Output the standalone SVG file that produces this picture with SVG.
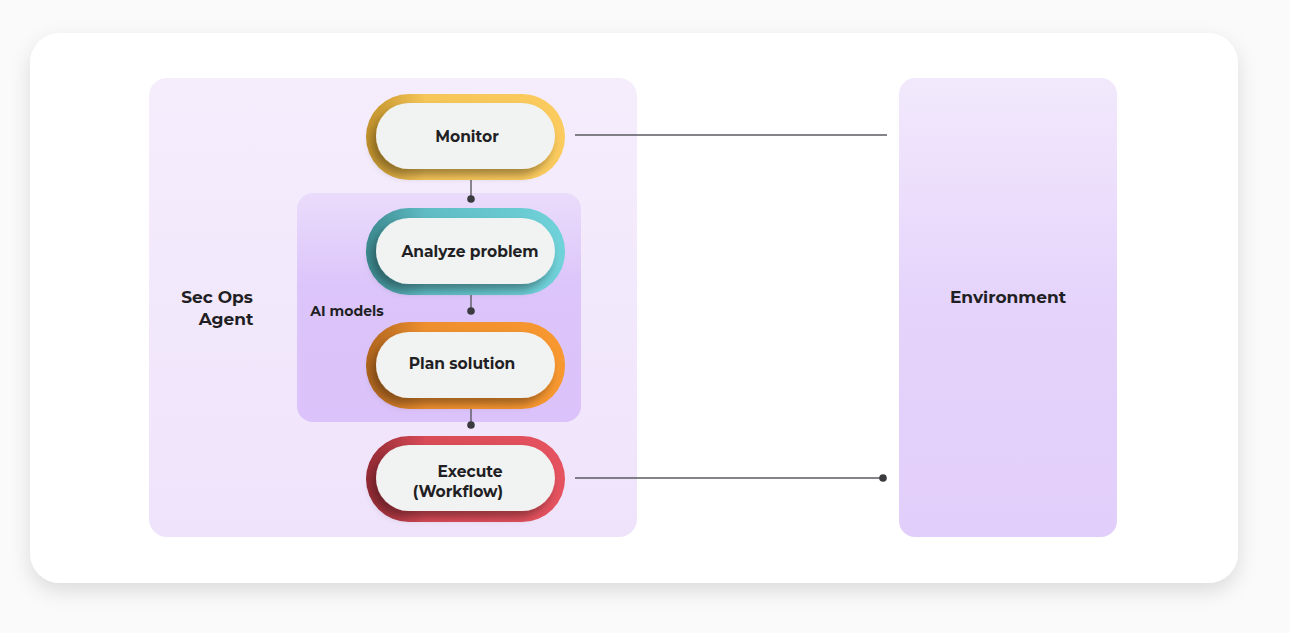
<svg xmlns="http://www.w3.org/2000/svg" width="1290" height="633" viewBox="0 0 1290 633">
<defs>
<filter id="cardsh" x="-10%" y="-10%" width="120%" height="130%"><feDropShadow dx="0" dy="8" stdDeviation="10" flood-color="#000" flood-opacity="0.12"/></filter>
<filter id="pillsh" x="-20%" y="-30%" width="140%" height="170%"><feDropShadow dx="-4" dy="6" stdDeviation="4" flood-color="#000" flood-opacity="0.35"/></filter>
<linearGradient id="lp" x1="0" y1="0" x2="0" y2="1"><stop offset="0" stop-color="#f5edfc"/><stop offset="1" stop-color="#efe3fb"/></linearGradient>
<linearGradient id="ai" x1="0" y1="0" x2="0" y2="1"><stop offset="0" stop-color="#eadcfb"/><stop offset="0.4" stop-color="#dcc5fa"/><stop offset="1" stop-color="#dbc2fa"/></linearGradient>
<linearGradient id="rp" x1="0" y1="0" x2="0" y2="1"><stop offset="0" stop-color="#f2e9fc"/><stop offset="0.5" stop-color="#e5d3fb"/><stop offset="1" stop-color="#e2cefa"/></linearGradient>
<linearGradient id="gy" x1="0" y1="0" x2="1" y2="0"><stop offset="0" stop-color="#c3932c"/><stop offset="0.3" stop-color="#f6c658"/><stop offset="1" stop-color="#fbcb5e"/></linearGradient>
<linearGradient id="gt" x1="0" y1="0" x2="1" y2="0"><stop offset="0" stop-color="#3c8a8f"/><stop offset="0.3" stop-color="#5fbcc4"/><stop offset="1" stop-color="#70d2da"/></linearGradient>
<linearGradient id="go" x1="0" y1="0" x2="1" y2="0"><stop offset="0" stop-color="#b0661f"/><stop offset="0.3" stop-color="#ee8f2e"/><stop offset="1" stop-color="#f89830"/></linearGradient>
<linearGradient id="gr" x1="0" y1="0" x2="1" y2="0"><stop offset="0" stop-color="#942a34"/><stop offset="0.3" stop-color="#d84b57"/><stop offset="1" stop-color="#e5535f"/></linearGradient>
</defs>
<style>
text{font-family:Montserrat,"Inter","Liberation Sans",sans-serif;font-weight:700;fill:#1f1f24;text-anchor:middle}
.pill{font-size:15.5px}
.inner{fill:#f1f2f2;filter:url(#pillsh)}
.ln{stroke:#5a5a60;stroke-width:1.4;fill:none}
.dot{fill:#3a3a3f}
</style>
<rect width="1290" height="633" fill="#fafafa"/>
<rect x="30" y="33" width="1208" height="550" rx="30" fill="#fff" filter="url(#cardsh)"/>
<g id="secops">
<rect x="149" y="78" width="488" height="459" rx="18" fill="url(#lp)"/>
<text x="217" y="303" font-size="17">Sec Ops</text>
<text x="226" y="325" font-size="17">Agent</text>
</g>
<g id="aimodels">
<rect x="297" y="193" width="284" height="229" rx="16" fill="url(#ai)"/>
<text x="347" y="316" font-size="14">AI models</text>
</g>
<g id="environment">
<rect x="899" y="78" width="218" height="459" rx="16" fill="url(#rp)"/>
<text x="1008" y="303" font-size="17">Environment</text>
</g>
<g id="connectors">
<line class="ln" x1="471" y1="180" x2="471" y2="199"/><circle class="dot" cx="471" cy="199" r="3.8"/>
<line class="ln" x1="471" y1="295" x2="471" y2="311"/><circle class="dot" cx="471" cy="311" r="3.8"/>
<line class="ln" x1="471" y1="409" x2="471" y2="425"/><circle class="dot" cx="471" cy="425" r="3.8"/>
<line class="ln" x1="575" y1="135" x2="887" y2="135"/>
<line class="ln" x1="575" y1="478" x2="883" y2="478"/><circle class="dot" cx="883" cy="478" r="3.8"/>
</g>
<g id="monitor">
<rect x="366" y="94" width="199" height="86" rx="43" fill="url(#gy)"/>
<rect class="inner" x="376" y="103" width="179" height="66" rx="33"/>
<text class="pill" x="467" y="142">Monitor</text>
</g>
<g id="analyze">
<rect x="366" y="208" width="199" height="87" rx="43" fill="url(#gt)"/>
<rect class="inner" x="376" y="218" width="179" height="66" rx="33"/>
<text class="pill" x="470" y="257">Analyze problem</text>
</g>
<g id="plan">
<rect x="366" y="322" width="199" height="87" rx="43" fill="url(#go)"/>
<rect class="inner" x="376" y="332" width="179" height="66" rx="33"/>
<text class="pill" x="462" y="369">Plan solution</text>
</g>
<g id="execute">
<rect x="366" y="436" width="199" height="86" rx="43" fill="url(#gr)"/>
<rect class="inner" x="376" y="445" width="179" height="66" rx="33"/>
<text class="pill" x="470" y="477">Execute</text>
<text class="pill" x="458" y="497">(Workflow)</text>
</g>
</svg>
